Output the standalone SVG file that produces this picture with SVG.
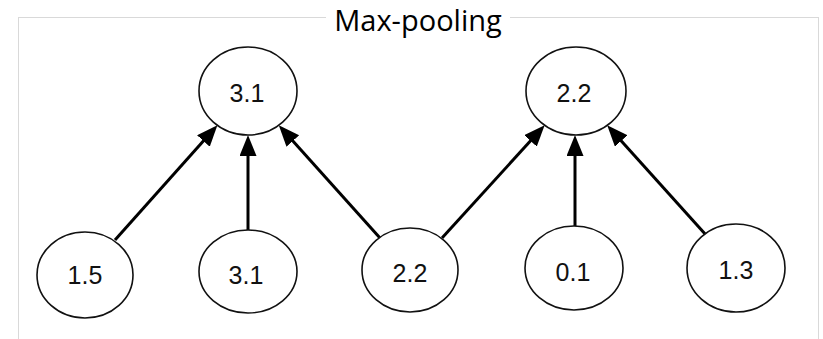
<svg xmlns="http://www.w3.org/2000/svg" width="823" height="339" viewBox="0 0 823 339">
  <style>
    .frame { fill: none; stroke: #d9d9d9; stroke-width: 1; }
    .title { font-family: "Open Sans", "Noto Sans", sans-serif; font-size: 29px; fill: #000; text-anchor: middle; }
    .node ellipse { fill: #fff; stroke: #111; stroke-width: 1.6; }
    .node text { font-family: "Liberation Sans", Arial, sans-serif; font-size: 25px; fill: #111; text-anchor: middle; }
    .edge { stroke: #000; stroke-width: 3; fill: none; marker-end: url(#arrow); }
  </style>
  <defs>
    <marker id="arrow" markerUnits="userSpaceOnUse" markerWidth="23" markerHeight="18" refX="15" refY="8.5" orient="auto">
      <path d="M0,0 L21,8.5 L0,17 Z" fill="#000"/>
    </marker>
  </defs>

  <rect width="823" height="339" fill="#fff"/>

  <!-- panel outline, open at the bottom -->
  <rect class="frame" x="18.5" y="17.5" width="800" height="340"/>

  <!-- heading sits on a white patch over the outline -->
  <rect x="326" y="5" width="184" height="30" fill="#fff"/>
  <text class="title" x="418" y="31">Max-pooling</text>

  <!-- connectors -->
  <g id="edges">
    <line class="edge" x1="115" y1="240" x2="213.4" y2="129.8"/>
    <line class="edge" x1="248" y1="230" x2="248" y2="141"/>
    <line class="edge" x1="380" y1="238" x2="282.8" y2="129.8"/>
    <line class="edge" x1="442" y1="238" x2="540.6" y2="129.8"/>
    <line class="edge" x1="575" y1="226" x2="575" y2="141"/>
    <line class="edge" x1="706" y1="235" x2="611.2" y2="129.8"/>
  </g>

  <!-- pooled outputs -->
  <g id="out-1" class="node">
    <ellipse cx="248" cy="91" rx="49" ry="44"/>
    <text x="247" y="102">3.1</text>
  </g>
  <g id="out-2" class="node">
    <ellipse cx="576" cy="91" rx="50" ry="44"/>
    <text x="574" y="102">2.2</text>
  </g>

  <!-- inputs -->
  <g id="in-1" class="node">
    <ellipse cx="85" cy="275" rx="48" ry="43"/>
    <text x="85" y="284">1.5</text>
  </g>
  <g id="in-2" class="node">
    <ellipse cx="248" cy="271.5" rx="49" ry="41.5"/>
    <text x="246" y="284">3.1</text>
  </g>
  <g id="in-3" class="node">
    <ellipse cx="410" cy="270" rx="48" ry="42"/>
    <text x="410" y="282">2.2</text>
  </g>
  <g id="in-4" class="node">
    <ellipse cx="574" cy="268" rx="49" ry="42"/>
    <text x="573" y="281">0.1</text>
  </g>
  <g id="in-5" class="node">
    <ellipse cx="736" cy="268" rx="49" ry="44"/>
    <text x="736" y="279">1.3</text>
  </g>
</svg>
